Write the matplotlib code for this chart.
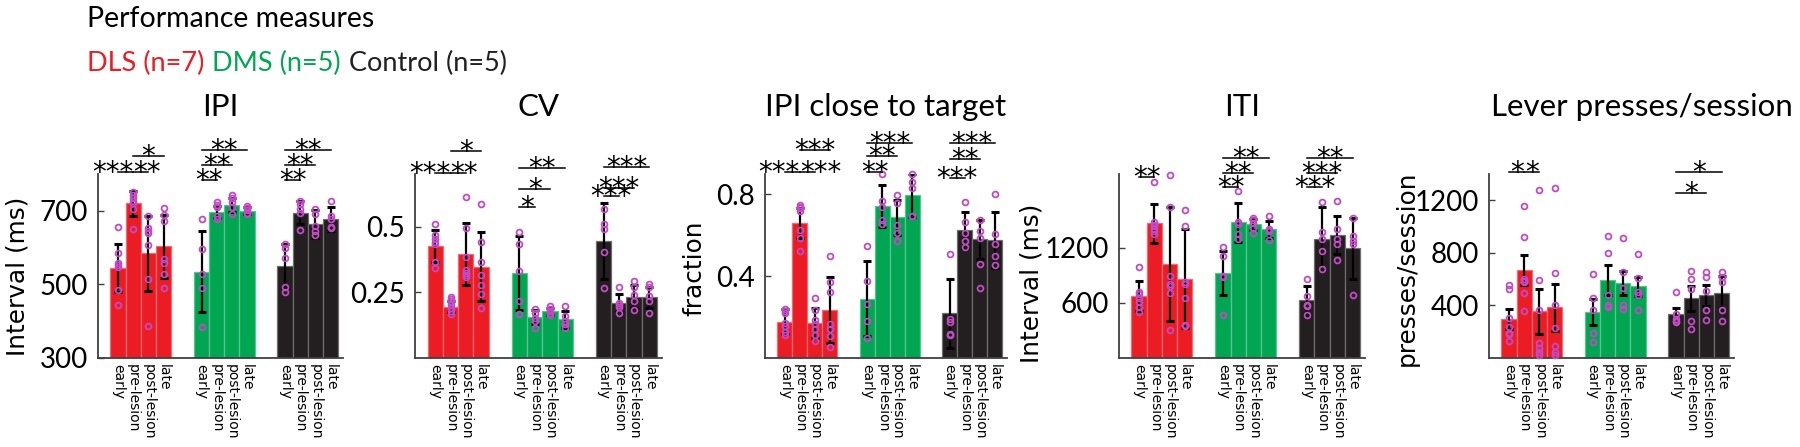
import matplotlib
matplotlib.use('Agg')
import matplotlib.pyplot as plt
import matplotlib.transforms as mtransforms
import matplotlib.colors as mcolors
import numpy as np

plt.rcParams['font.family'] = ['Lato', 'DejaVu Sans']

# ---------------- data ----------------
groups = ['DLS (n=7)', 'DMS (n=5)', 'Control (n=5)']
group_colors = ['#EC1C24', '#00A651', '#231F20']
phases = ['early', 'pre-lesion', 'post-lesion', 'late']
panel_titles = ['IPI', 'CV', 'IPI close to target', 'ITI', 'Lever presses/session']
ylabels = ['Interval (ms)', '', 'fraction', 'Interval (ms)', 'presses/session']

# IPI (ms)
ipi_mean = [[545, 720, 585, 603], [534, 697, 716, 700], [550, 695, 665, 677]]
ipi_err = [[66, 35, 102, 86], [110, 16, 20, 9], [59, 32, 38, 32]]
ipi_pts = [
    [[656, 585, 557, 552, 548, 486, 443], [750, 743, 734, 727, 720, 706, 650],
     [686, 652, 645, 640, 607, 514, 386], [707, 688, 673, 570, 559, 527, 489]],
    [[677, 597, 527, 489, 385], [723, 715, 709, 686, 677],
     [743, 734, 723, 709, 691], [714, 707, 702, 695, 691]],
    [[609, 600, 573, 494, 479], [727, 718, 705, 694, 648],
     [705, 691, 659, 645, 634], [727, 686, 677, 657, 652]],
]

# CV
cv_mean = [[0.427, 0.195, 0.396, 0.347], [0.323, 0.156, 0.177, 0.147], [0.446, 0.210, 0.233, 0.231]]
cv_err = [[0.060, 0.020, 0.118, 0.132], [0.140, 0.025, 0.012, 0.033], [0.145, 0.034, 0.043, 0.040]]
cv_pts = [
    [[0.510, 0.469, 0.452, 0.443, 0.434, 0.366, 0.343], [0.233, 0.224, 0.215, 0.205, 0.192, 0.179, 0.169],
     [0.613, 0.495, 0.385, 0.334, 0.323, 0.314, 0.308], [0.585, 0.443, 0.366, 0.317, 0.278, 0.244, 0.189]],
    [[0.478, 0.434, 0.330, 0.215, 0.166], [0.186, 0.173, 0.153, 0.140, 0.115],
     [0.198, 0.186, 0.180, 0.173, 0.165], [0.198, 0.160, 0.140, 0.128, 0.115]],
    [[0.566, 0.508, 0.491, 0.405, 0.265], [0.269, 0.211, 0.200, 0.195, 0.173],
     [0.293, 0.270, 0.240, 0.215, 0.183], [0.282, 0.269, 0.234, 0.218, 0.173]],
]

# IPI close to target (fraction)
close_mean = [[0.177, 0.660, 0.172, 0.235], [0.291, 0.742, 0.689, 0.795], [0.218, 0.626, 0.580, 0.577]]
close_err = [[0.061, 0.074, 0.074, 0.160], [0.182, 0.103, 0.086, 0.104], [0.169, 0.088, 0.096, 0.137]]
close_pts = [
    [[0.241, 0.230, 0.218, 0.172, 0.155, 0.126, 0.114], [0.747, 0.740, 0.734, 0.717, 0.626, 0.588, 0.522],
     [0.293, 0.235, 0.188, 0.167, 0.142, 0.114, 0.081], [0.499, 0.374, 0.321, 0.164, 0.144, 0.109, 0.056]],
    [[0.549, 0.378, 0.263, 0.183, 0.097], [0.899, 0.767, 0.737, 0.676, 0.655],
     [0.797, 0.759, 0.651, 0.613, 0.572], [0.902, 0.863, 0.830, 0.696, 0.693]],
    [[0.511, 0.192, 0.177, 0.117, 0.114], [0.762, 0.663, 0.613, 0.572, 0.544],
     [0.676, 0.621, 0.585, 0.458, 0.342], [0.800, 0.607, 0.557, 0.497, 0.453]],
]

# ITI (ms)
iti_mean = [[673, 1462, 1018, 862], [927, 1473, 1455, 1400], [626, 1298, 1338, 1193]]
iti_err = [[163, 211, 618, 538], [237, 211, 60, 91], [156, 338, 207, 334]]
iti_pts = [
    [[989, 716, 698, 655, 607, 556, 498], [1916, 1473, 1444, 1430, 1407, 1382, 1345],
     [1989, 1636, 891, 807, 785, 709, 309], [1611, 1436, 824, 807, 647, 364, 345]],
    [[1207, 1109, 891, 880, 465], [1811, 1473, 1455, 1353, 1291],
     [1527, 1498, 1470, 1418, 1356], [1545, 1407, 1390, 1382, 1280]],
    [[862, 673, 571, 560, 465], [1691, 1371, 1298, 1160, 971],
     [1702, 1400, 1291, 1235, 1062], [1527, 1327, 1273, 1244, 684]],
]

# Lever presses / session
lever_mean = [[298, 670, 354, 385], [352, 596, 571, 545], [334, 453, 476, 494]]
lever_err = [[74, 112, 173, 178], [99, 115, 94, 72], [46, 92, 77, 128]]
lever_pts = [
    [[558, 527, 308, 234, 188, 181, 132], [1157, 920, 601, 588, 576, 494, 354],
     [1279, 596, 367, 117, 74, 48, 23], [1292, 647, 400, 232, 92, 48, 23]],
    [[639, 456, 362, 188, 125], [927, 800, 482, 405, 385],
     [910, 652, 532, 405, 372], [795, 609, 499, 482, 362]],
    [[502, 336, 300, 280, 275], [660, 601, 527, 283, 224],
     [652, 617, 507, 367, 290], [652, 617, 576, 367, 283]],
]

panel_means = [ipi_mean, cv_mean, close_mean, iti_mean, lever_mean]
panel_errs = [ipi_err, cv_err, close_err, iti_err, lever_err]
panel_pts = [ipi_pts, cv_pts, close_pts, iti_pts, lever_pts]
panel_ylims = [(300, 800), (0, 0.7), (0, 0.9), (0, 2000), (0, 1400)]
panel_yticks = [[300, 500, 700], [0.25, 0.5], [0.4, 0.8], [600, 1200], [400, 800, 1200]]
panel_yticklabels = [['300', '500', '700'], ['0.25', '0.5'], ['0.4', '0.8'], ['600', '1200'],
                     ['400', '800', '1200']]

# significance: (group, phase a, phase b, stars, row height (axes frac), text align)
sig = [
    [(0, 0, 1, '***', 1.013, 'r'), (0, 1, 2, '**', 1.013, 'l'), (0, 1, 3, '*', 1.10, 'c'),
     (1, 0, 1, '**', 0.967, 'c'), (1, 0, 2, '**', 1.049, 'c'), (1, 0, 3, '**', 1.13, 'c'),
     (2, 0, 1, '**', 0.967, 'c'), (2, 0, 2, '**', 1.049, 'c'), (2, 0, 3, '**', 1.13, 'c')],
    [(0, 0, 1, '***', 1.007, 'r'), (0, 1, 2, '**', 1.007, 'l'), (0, 1, 3, '*', 1.125, 'c'),
     (1, 0, 1, '*', 0.82, 'c'), (1, 0, 2, '*', 0.918, 'c'), (1, 0, 3, '**', 1.033, 'c'),
     (2, 0, 1, '***', 0.88, 'c'), (2, 0, 2, '***', 0.924, 'c'), (2, 0, 3, '***', 1.038, 'c')],
    [(0, 0, 1, '***', 1.01, 'r'), (0, 1, 2, '***', 1.01, 'l'), (0, 1, 3, '***', 1.13, 'c'),
     (1, 0, 1, '**', 1.01, 'c'), (1, 0, 2, '**', 1.10, 'c'), (1, 0, 3, '***', 1.17, 'c'),
     (2, 0, 1, '***', 0.98, 'c'), (2, 0, 2, '**', 1.08, 'c'), (2, 0, 3, '***', 1.17, 'c')],
    [(0, 0, 1, '**', 0.984, 'c'),
     (1, 0, 1, '**', 0.93, 'c'), (1, 0, 2, '**', 1.005, 'c'), (1, 0, 3, '**', 1.087, 'c'),
     (2, 0, 1, '***', 0.93, 'c'), (2, 0, 2, '***', 1.005, 'c'), (2, 0, 3, '**', 1.087, 'c')],
    [(0, 0, 1, '*', 1.01, 'c'), (0, 1, 2, '*', 1.01, 'c'),
     (2, 0, 2, '*', 0.897, 'c'), (2, 0, 3, '*', 1.01, 'c')],
]

# ---------------- layout ----------------
W, H = 1800, 447
fig = plt.figure(figsize=(W / 100, H / 100), dpi=100)

ax_bottom_px, ax_top_px = 358, 174
axes_px = [(98, 245), (415, 247), (765, 242), (1119, 246), (1489, 245)]
ylabel_pos = [(-0.327, 0.446), None, (-0.293, 0.489), (-0.354, 0.408), (-0.335, 0.489)]
title_x = [0.5, 0.5, 0.5, 0.5, 0.625]

group_step = 5.5
dot_color = '#C24AC4'
spine_color = '#404040'


def lighten(c, f):
    r = np.array(mcolors.to_rgb(c))
    return tuple(r + (1 - r) * f)


for p in range(5):
    left, width = axes_px[p]
    ax = fig.add_axes([left / W, (H - ax_bottom_px) / H, width / W,
                       (ax_bottom_px - ax_top_px) / H])
    xs_all = []
    for g in range(3):
        xs = np.arange(4) + g * group_step
        xs_all.extend(xs)
        col = group_colors[g]
        edge = lighten(col, 0.35)
        ax.bar(xs, panel_means[p][g], width=1.0, color=col, edgecolor=edge,
               linewidth=0.9, zorder=2)
        ax.errorbar(xs, panel_means[p][g], yerr=panel_errs[p][g], fmt='none',
                    ecolor='black', elinewidth=1.6, capsize=3.0, capthick=2.2, zorder=3)
        for i in range(4):
            pts = panel_pts[p][g][i]
            ax.plot([xs[i]] * len(pts), pts, 'o', mfc='none', mec=dot_color,
                    ms=4.2, mew=1.3, zorder=4, clip_on=False)

    ax.set_xlim(-1.32, 3 + 2 * group_step + 0.82)
    ax.set_ylim(*panel_ylims[p])
    ax.set_yticks(panel_yticks[p])
    ax.set_yticklabels(panel_yticklabels[p])
    ax.set_xticks(xs_all)
    ax.set_xticklabels(phases * 3, rotation=-90)
    ax.tick_params(axis='y', direction='in', length=4, width=1, color=spine_color,
                   labelsize=20, pad=7)
    ax.tick_params(axis='x', direction='in', length=3, width=1, color=spine_color,
                   pad=4, labelsize=10)
    for lbl in ax.get_xticklabels():
        lbl.set_fontfamily(['DejaVu Sans'])
        lbl.set_fontsize(10)
    for s in ['top', 'right']:
        ax.spines[s].set_visible(False)
    for s in ['left', 'bottom']:
        ax.spines[s].set_color(spine_color)
        ax.spines[s].set_linewidth(1.3)

    ax.set_title(panel_titles[p], fontsize=22.5, pad=42, x=title_x[p])
    if ylabels[p]:
        ax.set_ylabel(ylabels[p], va='center')
        ax.yaxis.label.set_fontfamily(['DejaVu Sans'])
        ax.yaxis.label.set_fontsize(17.8)
        ax.yaxis.set_label_coords(*ylabel_pos[p])

    trans = mtransforms.blended_transform_factory(ax.transData, ax.transAxes)
    for (g, a, b, stars, yf, align) in sig[p]:
        x1 = a + g * group_step
        x2 = b + g * group_step
        ax.plot([x1, x2], [yf, yf], transform=trans, color='black', lw=1.1,
                clip_on=False, zorder=5)
        if align == 'c':
            xt, ha = (x1 + x2) / 2, 'center'
        elif align == 'r':
            xt, ha = x2, 'right'
        else:
            xt, ha = x1, 'left'
        ax.annotate(stars, xy=(xt, yf), xycoords=trans, xytext=(0, -6.5),
                    textcoords='offset points', ha=ha, va='baseline',
                    fontsize=20, family=['DejaVu Sans'], annotation_clip=False)

# header text
fig.text(87 / W, 1 - 27 / H, 'Performance measures', fontsize=20.5,
         ha='left', va='baseline')
renderer = fig.canvas.get_renderer()
lx = 87.0
space_px = 8.0
for txt, col in zip(groups, group_colors):
    t = fig.text(lx / W, 1 - 71 / H, txt, fontsize=19.5, color=col,
                 ha='left', va='baseline')
    bb = t.get_window_extent(renderer=renderer)
    lx = bb.x1 + space_px

fig.savefig('out.png', dpi=100)
